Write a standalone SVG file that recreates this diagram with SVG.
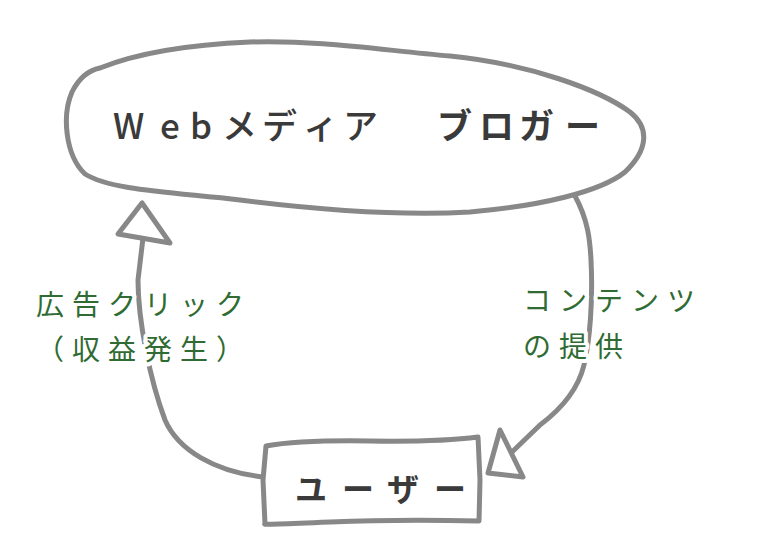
<svg xmlns="http://www.w3.org/2000/svg" width="761" height="540" viewBox="0 0 761 540">
<style>
.shape{fill:#fff;stroke:#888;stroke-width:5;stroke-linejoin:round;stroke-linecap:round}
.line{fill:none;stroke:#888;stroke-width:5;stroke-linecap:round;stroke-linejoin:round}
.head{fill:#fff;stroke:#888;stroke-width:5;stroke-linejoin:round}
.title{font-family:"Noto Sans CJK JP","Noto Sans",sans-serif;fill:#3a3a3a}
.lbl{font-family:"Noto Sans CJK JP","Noto Sans",sans-serif;font-size:28px;fill:#2f6b32;letter-spacing:8px;stroke:#fff;stroke-width:8px;stroke-linejoin:round;paint-order:stroke}
</style>
<rect width="761" height="540" fill="#fff"/>
<g id="connectors">
<path class="line" d="M 264 477 C 215 472, 178 450, 165 420 C 150 380, 138 320, 138 280 L 143 238"/>
<polygon class="head" points="142,203 118,234 170,243"/>
<path class="line" d="M 575 196 C 588 220, 590 240, 591 260 C 593 300, 590 340, 584 365 C 578 390, 560 410, 540 425 L 512 452"/>
<polygon class="head" points="500,430 523,477 488,473"/>
</g>
<g id="web">
<path class="shape" d="M 100 68 C 130 56, 180 45, 250 42 C 320 40, 380 50, 450 56 C 530 64, 600 90, 630 112 C 650 128, 648 150, 625 172 C 600 192, 540 206, 470 212 C 400 216, 320 210, 240 200 C 170 192, 110 190, 85 174 C 65 155, 62 115, 72 92 C 80 76, 90 70, 100 68 Z"/>
<text class="title" font-size="35" font-weight="500" x="113 160 190 222 262 303 343" y="139">Webメディア</text>
<text class="title" font-size="35" font-weight="700" x="437 479 519 565" y="139">ブロガー</text>
</g>
<g id="user">
<path class="shape" d="M 266 446 Q 300 440, 370 441 T 478 437 L 480 480 L 479 521 Q 400 519, 330 522 T 265 524 L 263 480 Z"/>
<text class="title" font-size="32" font-weight="700" x="295 342 387 434" y="501">ユーザー</text>
</g>
<g id="labels">
<text class="lbl" x="36" y="315">広告クリック</text>
<text class="lbl" x="36" y="360">（収益発生）</text>
<text class="lbl" x="523" y="311">コンテンツ</text>
<text class="lbl" x="523" y="357">の提供</text>
</g>
</svg>
